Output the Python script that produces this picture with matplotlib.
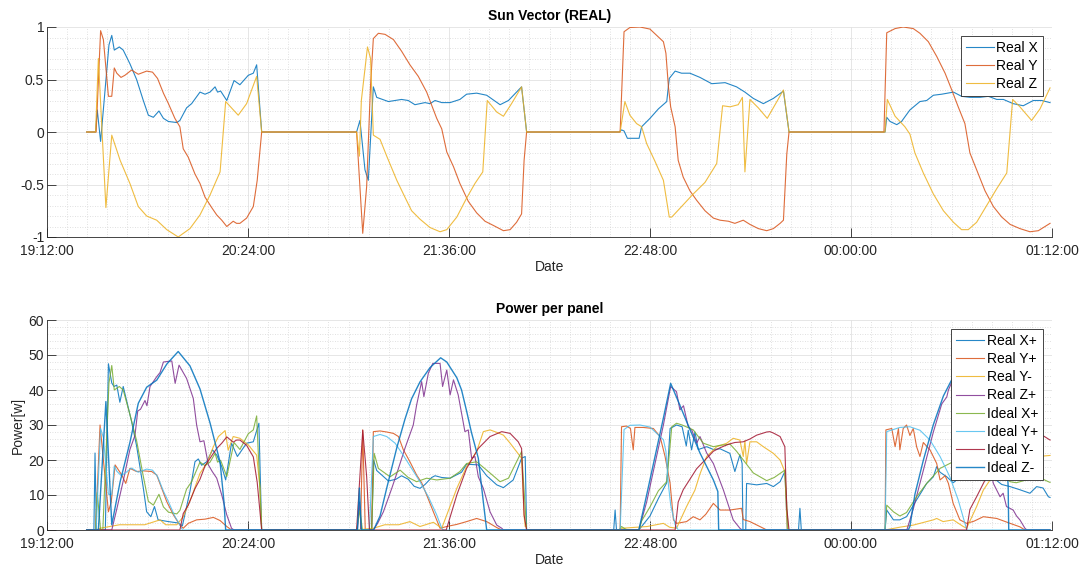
import numpy as np
import matplotlib
matplotlib.use("Agg")
import matplotlib.pyplot as plt
import matplotlib.dates as mdates
from matplotlib.ticker import MultipleLocator, FuncFormatter

plt.rcParams['font.family'] = ['Liberation Sans', 'DejaVu Sans']
plt.rcParams['axes.unicode_minus'] = False

# ---------------- data (minutes after 19:12:00, value) ----------------
START = '2021-01-01T19:12:00'

real_x = [(14.2,0),(17.4,0),(18.0,0.21),(19.2,-0.09),(22.2,0.83),(23.2,0.92),(24.1,0.78),(25.9,0.81),(27.3,0.78),(29.7,0.65),(32.1,0.50),(34.5,0.30),(36.3,0.16),(38.1,0.14),(40.1,0.20),(41.7,0.13),(43.5,0.10),(46.5,0.09),(47.6,0.11),(50.0,0.23),(51.8,0.27),(54.8,0.38),(56.6,0.36),(58.4,0.38),(60.2,0.43),(61.1,0.38),(62.2,0.39),(64.4,0.30),(67.0,0.49),(69.1,0.45),(72.1,0.54),(73.9,0.56),(75.1,0.64),(76.9,0),
          (110.9,0),(112.1,0.11),(113.9,-0.36),(115.1,-0.46),(116.9,0.43),(118.1,0.33),(122.3,0.29),(127.0,0.31),(129.4,0.30),(131.8,0.26),(133.6,0.27),(135.4,0.28),(137.2,0.27),(139.0,0.30),(141.4,0.28),(144.4,0.28),(147.9,0.31),(150.3,0.36),(153.9,0.37),(157.5,0.35),(162.3,0.26),(165.3,0.30),(170.0,0.43),(171.8,0),
          (205.0,0),(205.8,0.02),(206.7,0.01),(207.9,-0.06),(212.1,-0.06),(213.0,0.05),(216.0,0.13),(219.0,0.22),(222.0,0.29),(222.9,0.51),(225.0,0.58),(227.3,0.56),(230.3,0.56),(233.9,0.52),(238.1,0.46),(242.9,0.47),(247.0,0.43),(250.0,0.38),(253.0,0.32),(256.6,0.27),(260.2,0.32),(263.8,0.39),(265.8,0),
          (300.2,0),(300.8,0.14),(302.0,0.10),(304.4,0.07),(306.1,0.10),(309.1,0.21),(312.7,0.29),(315.1,0.30),(317.5,0.35),(320.5,0.36),(324.7,0.38),(327.6,0.34),(330.6,0.33),(334.2,0.33),(337.2,0.34),(340.2,0.31),(342.6,0.31),(346.1,0.27),(349.7,0.25),(353.3,0.30),(356.3,0.30),(359.3,0.28)]

real_y = [(14.2,0),(17.6,0),(19.2,0.965),(20.2,0.88),(22.0,0.34),(23.2,0.34),(24.1,0.61),(25.0,0.56),(26.5,0.52),(27.9,0.54),(30.3,0.59),(32.7,0.55),(35.7,0.58),(37.8,0.57),(39.6,0.51),(41.7,0.37),(43.5,0.27),(45.8,0.13),(47.6,0.05),(48.8,-0.16),(50.6,-0.24),(53.0,-0.40),(54.8,-0.49),(56.6,-0.62),(59.0,-0.72),(60.8,-0.79),(62.6,-0.84),(64.4,-0.90),(66.7,-0.85),(67.9,-0.87),(69.1,-0.87),(71.5,-0.82),(73.9,-0.71),(75.3,-0.46),(76.9,0),
          (110.9,0),(113.1,-0.965),(114.5,-0.52),(115.9,0.45),(116.9,0.89),(118.7,0.94),(121.1,0.93),(124.1,0.88),(127.0,0.77),(130.0,0.64),(133.0,0.53),(136.0,0.38),(139.6,0.13),(141.4,0.03),(143.2,-0.19),(145.6,-0.33),(147.9,-0.49),(150.9,-0.66),(153.9,-0.77),(156.9,-0.85),(159.9,-0.89),(163.5,-0.94),(165.9,-0.93),(168.2,-0.86),(170.0,-0.78),(170.9,-0.27),(171.8,0),
          (205.3,0),(206.7,0.955),(208.8,0.995),(212.4,1.0),(216.0,0.98),(218.4,0.92),(220.8,0.86),(221.7,0.75),(222.6,0.43),(223.4,0.24),(225.0,0.05),(226.1,-0.27),(227.9,-0.43),(230.3,-0.56),(232.7,-0.65),(235.7,-0.75),(238.7,-0.82),(241.1,-0.84),(244.1,-0.85),(246.4,-0.87),(249.4,-0.84),(251.8,-0.88),(254.8,-0.92),(257.8,-0.94),(260.2,-0.92),(262.6,-0.87),(263.8,-0.84),(265.0,-0.21),(265.8,0),
          (299.8,0),(300.8,0.945),(303.8,0.985),(306.7,1.0),(310.3,0.985),(312.7,0.94),(315.7,0.86),(318.7,0.72),(321.7,0.56),(324.1,0.40),(326.4,0.24),(328.8,0.08),(330.6,-0.20),(333.0,-0.36),(336.0,-0.56),(339.0,-0.71),(342.0,-0.81),(345.0,-0.88),(348.5,-0.92),(352.1,-0.95),(355.1,-0.94),(357.5,-0.90),(359.3,-0.87)]

real_z = [(14.2,0),(17.4,0),(18.4,0.70),(21.1,-0.72),(23.2,-0.03),(26.2,-0.27),(29.7,-0.49),(32.7,-0.71),(35.7,-0.80),(39.3,-0.84),(42.9,-0.93),(47.0,-1.0),(51.2,-0.92),(54.8,-0.79),(58.4,-0.60),(62.0,-0.38),(64.0,0.29),(68.5,0.16),(71.5,0.27),(75.1,0.53),(76.9,0),
          (110.9,0),(111.9,-0.23),(112.6,0.3),(114.8,0.81),(115.9,0.70),(116.9,-0.03),(119.3,-0.07),(121.7,-0.23),(125.3,-0.46),(128.2,-0.62),(130.6,-0.75),(133.6,-0.83),(137.2,-0.91),(140.8,-0.95),(143.2,-0.93),(146.8,-0.81),(150.3,-0.63),(153.3,-0.49),(156.1,-0.38),(157.7,0.30),(161.1,0.19),(163.5,0.15),(166.4,0.27),(170.0,0.43),(171.8,0),
          (205.3,0),(207.0,0.29),(208.8,0.16),(211.2,0.08),(213.0,0.05),(214.8,-0.11),(217.8,-0.28),(220.8,-0.46),(222.9,-0.81),(223.8,-0.81),(227.3,-0.71),(231.5,-0.59),(235.7,-0.48),(239.9,-0.30),(242.0,0.25),(244.7,0.24),(247.6,0.26),(249.1,0.33),(250.0,-0.38),(251.8,0.31),(254.8,0.23),(258.0,0.13),(260.8,0.26),(263.8,0.40),(265.8,0),
          (300.2,0),(301.0,0.31),(303.8,0.15),(307.3,0.05),(309.1,-0.02),(310.9,-0.20),(313.9,-0.39),(317.5,-0.59),(321.1,-0.75),(324.7,-0.86),(327.6,-0.93),(330.0,-0.93),(333.0,-0.86),(336.6,-0.70),(340.2,-0.54),(343.8,-0.39),(345.9,0.31),(348.5,0.24),(352.7,0.11),(355.7,0.22),(359.3,0.42)]

real_xp = [(14.2,0),(16.8,0),(17.2,22),(17.7,0),(20.9,0),(22.0,47.5),(23.2,42),(24.0,41),(25.0,41.4),(26.1,36.5),(27.3,41),(29.1,35),(30.3,31),(32.1,24),(34.5,12),(35.7,5.2),(37.2,3.8),(38.5,6.7),(39.8,2.9),(43.5,2.4),(47.0,2.0),(48.5,1.2),(51.2,11),(53.0,19.5),(54.2,20.3),(55.4,18.5),(57.2,19.5),(59.3,22.9),(60.8,21.4),(62.6,18.1),(64.0,14.3),(66.1,24.8),(68.2,21),(71.5,24.8),(73.9,25.2),(75.9,30.5),(76.9,0),
           (110.9,0),(116.3,0),(117.0,20),(118.1,17),(122.3,14),(125.0,14.5),(127.0,15.5),(129.4,14.5),(131.5,12.5),(133.6,11.9),(135.4,13),(137.8,15),(139.0,15.5),(141.4,15),(144.4,14.8),(148.5,16.5),(150.3,18.8),(154.5,18.6),(157.5,15.5),(161.1,12.9),(163.5,12.1),(167.0,14.3),(170.0,20.5),(171.3,21),(171.8,0),
           (203.0,0),(203.5,5.7),(204.0,0),(212.0,0),(216.0,4),(219.0,9),(222.0,13.5),(223.2,29),(225.5,30),(227.5,29.5),(229.0,24),(229.7,28.5),(230.9,22.9),(232.1,28),(233.3,23),(236.3,23.8),(238.7,23.0),(241.1,23.2),(244.6,21.9),(246.4,16.7),(248.2,21.5),(249.0,19),(249.3,0),(250.3,0),(250.6,13.3),(254.2,12.9),(257.8,13.3),(260.2,12.4),(262.6,13.8),(264.3,16.7),(265.2,0),
           (269.2,0),(269.7,6.2),(270.2,0),(300.2,0),(300.8,5.7),(303.2,2.9),(305.5,2.9),(307.9,3.8),(311.5,8.6),(315.1,13.3),(317.5,15.2),(318.7,18.1),(319.9,16.5),(322.3,15.2),(324.6,13.5),(327.0,15),(330.0,15.5),(334.0,15),(338.0,15.5),(342.0,13),(345.0,12.4),(348.5,11.5),(352.1,10.5),(354.5,12.4),(356.8,12),(358.7,9.5),(359.3,9.3)]

real_yp = [(14.2,0),(17.4,0),(19.0,30),(20.2,20),(22.0,5.2),(23.0,8),(24.4,18.6),(26.8,15.7),(28.2,13.3),(29.7,17.6),(32.1,16.7),(34.5,16.9),(37.5,16.7),(39.3,15.7),(41.1,11.9),(42.9,8.1),(45.3,4.3),(47.6,1.4),(48.8,0.5),(50.6,1.9),(53.6,2.9),(56.6,3.1),(59.6,3.6),(62.0,2.7),(64.4,1),(66.1,0),
           (112.3,0),(113.1,28.6),(114.0,0),(116.3,0),(116.9,28.1),(119.3,28.3),(121.7,28.0),(124.1,27.6),(125.9,26.7),(127.6,23),(130.0,19.5),(132.4,15.7),(134.2,13.5),(136.0,10),(138.4,5.2),(140.8,0.5),(143.2,1),(146.8,1.6),(150.3,2.4),(153.9,3.3),(157.5,2.4),(161.1,0.7),(162.9,0),
           (205.3,0),(205.8,29.5),(207.6,29.7),(209.0,29.0),(210.0,22.9),(210.6,29.3),(213.6,29.3),(217.2,29),(219.6,26.7),(221.4,21),(223.2,13.3),(224.4,2.9),(225.5,1.9),(229.1,2.4),(231.5,3.8),(233.9,2.9),(236.0,4.5),(238.7,7.6),(241.1,5.7),(244.6,5.7),(248.8,6.2),(249.4,3),(251.8,2.4),(256.6,0.5),(257.8,0),
           (300.2,0),(300.5,28.6),(302.6,29),(303.8,23.8),(305.0,29),(305.5,22.9),(306.7,29),(307.9,30),(309.1,27),(310.3,29),(311.5,23.8),(312.7,21),(313.9,25),(316.3,22.9),(318.7,19),(319.9,14.3),(321.7,15.5),(322.9,13.3),(324.6,7.6),(327.0,2.9),(329.4,1.9),(332.0,2.5),(335.4,3.8),(340.2,3.3),(345.0,1.9),(348.5,0.9),(350.3,0),(359.3,0)]

real_ym = [(14.2,0),(17.6,0),(19.0,0.5),(26.0,1.5),(35.0,1.5),(40.5,2.9),(42.5,1.5),(46.5,1.5),(48.8,3.8),(51.8,9.5),(54.8,16.2),(57.2,19.0),(59.6,23.8),(61.4,26.7),(63.8,28.4),(64.9,22.8),(66.7,26.7),(69.1,26.2),(72.1,24.3),(75.1,21.4),(76.3,12),(76.9,0),
           (110.9,0),(116.9,0.5),(121.0,1.5),(126.0,1.5),(130.0,2.4),(133.6,1),(138.4,2.2),(141.4,0.5),(143.2,4.3),(146.8,11.9),(150.3,18.1),(153.9,22.4),(156.3,28.1),(158.7,28.6),(161.1,27.9),(163.5,27.1),(165.9,24.8),(168.2,22.4),(170.0,20.5),(170.9,4),(171.3,1),(171.6,1.5),(171.8,0),
           (205.3,0),(206.0,0.5),(215.0,1),(220.8,1.9),(223.0,0.8),(225.5,0.5),(229.1,6.7),(232.1,11.4),(233.9,16),(236.3,21),(239.9,23.8),(243.5,24.8),(245.8,26.2),(248.2,25.7),(249.4,21),(250.0,25.5),(250.6,19),(251.8,25.2),(254.2,25.2),(256.6,23.8),(260.2,21.9),(262.6,20),(264.3,16.7),(265.2,0),
           (300.2,0),(305.5,0.8),(310.3,1.4),(317.5,2.9),(318.7,3.3),(321.0,2.4),(324.6,2.9),(328.2,1),(329.4,0.5),(333.0,6.7),(335.4,11.4),(338.0,14.5),(341.0,17),(345.0,19),(350.0,20.2),(355.0,21),(359.3,21.3)]

real_zp = [(14.2,0),(23.2,0),(25.0,6),(27.3,14),(29.7,23),(31.5,27),(32.5,34),(33.5,34.5),(35.1,37),(35.8,35.5),(36.9,41),(39.3,43.8),(40.5,45),(41.7,48),(44.7,48.3),(45.9,41.9),(47.3,47.1),(50.0,43.3),(52.4,37.6),(53.6,30),(54.8,25.2),(56.2,25.5),(57.8,18.6),(59.2,16.7),(60.8,14.8),(62.6,10),(64.4,4.3),(66.1,0.5),(67.0,0),
           (111.2,0),(111.9,8),(112.6,0),(116.9,0),(118.5,2),(120.5,5.2),(123.5,11.9),(125.9,17.6),(128.2,23.3),(131.2,30),(132.4,35.7),(134.2,42.4),(135.0,38.1),(136.6,44.8),(138.2,47.6),(140.8,47.6),(141.7,41),(143.2,45.7),(144.4,38.6),(145.6,42.9),(147.3,38.6),(149.7,28.1),(150.9,28.6),(152.1,20.5),(153.3,21),(154.5,15.2),(156.3,11.9),(158.7,5.2),(161.1,1.4),(162.9,0.5),(163.5,0),
           (212.0,0),(214.8,8),(217.8,19),(220.8,30),(223.4,41),(225.5,39.5),(226.7,34.3),(228.0,35.5),(229.7,29.5),(231.0,28.5),(232.7,24.8),(233.9,26.7),(236.3,22),(238.7,19),(242.3,11.4),(245.8,2.9),(248.2,0.5),(249.0,0),
           (308.0,0),(310.3,6),(313.9,17),(317.5,28),(320.5,36),(322.3,38),(322.9,40),(324.5,43),(326.5,45.5),(328.5,44),(330.5,42),(333.0,35),(336.0,25),(338.0,17),(339.0,13.3),(341.4,9.5),(342.5,10.5),(343.7,6.7),(346.1,5.7),(347.3,4),(348.5,2.9),(350.3,0.5),(351.0,0),(359.3,0)]

ideal_xp = [(14.2,0),(17.4,0),(18.0,10.7),(19.2,0),(20.0,0),(22.2,42),(23.2,47),(24.1,40),(25.9,41),(27.3,40),(29.7,33),(32.1,25.5),(34.5,15.3),(36.3,8.2),(38.1,7.1),(40.1,10.2),(41.7,6.6),(43.5,5.1),(46.5,4.6),(47.6,5.6),(50.0,11.7),(51.8,13.8),(54.8,19.4),(56.6,18.4),(58.4,19.4),(60.2,21.9),(61.1,19.4),(62.2,19.9),(64.4,15.3),(67.0,25),(69.1,23),(72.1,27.5),(73.9,28.6),(75.1,32.6),(76.9,0),
            (110.9,0),(112.1,5.6),(113.0,0),(116.3,0),(117.2,21.9),(118.7,17.6),(122.9,15.2),(126.5,17.1),(129.4,15),(132.4,13.8),(136.0,14.8),(139.6,14.3),(144.4,14.8),(147.9,16.7),(150.3,19),(153.9,19.5),(157.5,17.1),(162.3,13.8),(165.3,14.8),(170.0,22.4),(171.8,0),
            (205.0,0),(205.8,1),(206.7,0.5),(207.9,0),(212.1,0),(213.0,2.6),(216.0,6.6),(219.0,11.2),(222.0,13.8),(223.8,29.5),(225.5,30.5),(227.5,30),(231.5,28.6),(235.1,24.8),(238.7,23.8),(241.1,24.2),(244.7,24.5),(247.0,22.5),(250.0,19.4),(253.0,16.3),(257.8,14.1),(260.5,15),(264.3,17.1),(265.5,0),
            (300.2,0),(300.8,7.1),(303.2,5.2),(305.5,4),(307.9,5),(311.5,9.5),(315.1,13.3),(319.9,17.6),(324.6,19.5),(327.6,17.8),(330.6,17),(334.2,17),(337.2,17.3),(340.2,15.8),(342.6,15.5),(345.0,13.8),(347.2,13.5),(350.8,14.3),(353.2,15.2),(356.0,14.8),(358.7,13.8),(359.3,13.6)]

ideal_yp = [(14.2,0),(17.6,0),(19.2,29),(20.2,26.4),(22.0,10.2),(23.2,10.2),(24.1,18.3),(25.0,16.8),(26.5,15.6),(27.9,16.2),(30.3,17.7),(32.7,16.5),(35.7,17.4),(37.8,17.1),(39.6,15.3),(41.7,11.1),(43.5,8.1),(45.8,3.9),(47.6,1.5),(48.5,0),
            (115.5,0),(116.9,26.7),(119.3,27.3),(121.7,26.7),(124.7,24.8),(127.6,21.4),(130.6,17.6),(133.6,13.8),(136.6,9.5),(139.6,4.3),(141.4,0.5),(142.0,0),
            (205.3,0),(206.7,28.7),(208.8,29.9),(212.4,30),(216.0,29.4),(218.4,27.6),(220.8,25.8),(221.7,22.5),(222.6,12.9),(223.4,7.2),(225.0,1.5),(226.1,0),
            (300.2,0),(300.8,28.1),(305.5,29.3),(309.1,29.5),(312.7,28.5),(316.3,25.7),(319.9,21),(323.4,15.2),(326.4,8.6),(328.8,1.9),(329.5,0),(359.3,0)]

ideal_ym = [(14.2,0),(47.6,0),(48.8,4.7),(50.6,7.1),(53.0,11.8),(54.8,14.5),(56.6,18.3),(59.0,21.2),(60.8,23.3),(62.6,24.8),(64.4,26.6),(66.7,25.1),(67.9,25.7),(69.1,25.7),(71.5,24.2),(73.9,20.9),(75.3,13.6),(76.9,0),
            (110.9,0),(113.1,28.5),(114.5,15.3),(115.5,0),(143.0,0),(146.8,10),(150.3,17.6),(154.5,23.3),(158.7,26.7),(162.9,28.1),(165.9,27.6),(168.8,25.2),(170.0,23.3),(170.9,4.3),(171.8,0),
            (225.0,0),(226.1,8),(227.9,11.5),(230.3,14.5),(232.7,17.5),(236.3,20.5),(238.7,22.5),(241.1,23.5),(244.1,24.5),(246.4,25),(249.4,25.2),(251.8,26),(254.2,27.1),(257.8,28),(259.0,28.1),(260.2,27.7),(262.6,26.7),(264.3,23.8),(265.0,6.2),(265.8,0),
            (329.4,0),(330.6,5.9),(333.0,9.5),(336.6,15.2),(339.0,19),(342.0,22.5),(345.0,25),(348.5,26.8),(352.1,28),(355.1,27.7),(357.5,26.6),(359.3,25.7)]

ideal_zm = [(14.2,0),(18.4,0),(21.1,36.7),(23.2,1.5),(26.2,13.8),(29.7,25),(32.7,36.2),(35.7,40.8),(39.3,42.8),(42.9,47.4),(47.0,51),(51.2,46.9),(54.8,40.3),(58.4,30.6),(62.0,19.4),(63.4,8),(64.0,0),
            (111.2,0),(111.9,12),(112.6,0),(117.0,0),(119.3,4),(121.7,12),(125.3,23.5),(128.2,31.6),(130.6,37.5),(133.6,42.3),(137.2,46.4),(141.0,49.2),(143.2,48),(146.8,43.5),(148.5,40),(150.3,34),(152.0,28),(154.5,20.5),(156.3,8),(157.5,0),
            (212.0,0),(214.8,10),(217.8,21),(220.8,32),(223.4,41.9),(226.0,37),(229.1,31),(233.9,22),(238.7,14.3),(240.3,11),(240.6,0),
            (308.5,0),(309.1,1),(310.9,10.2),(313.9,19.9),(317.5,30.1),(321.1,38.3),(324.7,43.9),(327.6,47.4),(330.0,47.4),(333.0,43.9),(336.6,35.7),(340.2,27.5),(343.8,19.9),(344.3,12.4),(344.5,0),(359.3,0)]

top_labels = ['Real X', 'Real Y', 'Real Z']
bottom_labels = ['Real X+', 'Real Y+', 'Real Y-', 'Real Z+', 'Ideal X+', 'Ideal Y+', 'Ideal Y-', 'Ideal Z-']
top_series = [real_x, real_y, real_z]
bottom_series = [real_xp, real_yp, real_ym, real_zp, ideal_xp, ideal_yp, ideal_ym, ideal_zm]

SPAN_MIN = 360
MAJOR_STEP_MIN = 72
MINOR_STEP_MIN = 7.2

# ---------------- helpers ----------------
BASE = np.datetime64(START)

def to_dt(minutes):
    sec = np.round(np.asarray(minutes, dtype=float) * 60).astype('int64')
    return BASE + sec.astype('timedelta64[s]')

def unzip(pairs):
    t, v = zip(*pairs)
    return to_dt(t), np.array(v, dtype=float)

COLORS = ['#0072BD', '#D95319', '#EDB120', '#7E2F8E', '#77AC30', '#4DBEEE', '#A2142F', '#0072BD']
AXC = '#262626'

def style(ax, ylim, yticks, yminor, title, ylabel=None):
    ax.set_xlim(to_dt(0), to_dt(SPAN_MIN))
    ax.set_ylim(*ylim)
    ax.set_xticks(to_dt(np.arange(0, SPAN_MIN + 0.01, MAJOR_STEP_MIN)))
    ax.set_xticks(to_dt(np.arange(0, SPAN_MIN + 0.01, MINOR_STEP_MIN)), minor=True)
    ax.xaxis.set_major_formatter(mdates.DateFormatter('%H:%M:%S'))
    ax.set_yticks(yticks)
    ax.yaxis.set_minor_locator(MultipleLocator(yminor))
    ax.yaxis.set_major_formatter(FuncFormatter(lambda v, p: '%g' % v))
    ax.set_axisbelow(True)
    ax.grid(True, which='major', color='#e2e2e2', lw=0.6, ls='-')
    ax.grid(True, which='minor', color='#d6d6d6', lw=0.6, ls=(0, (1, 2)))
    for s in ['top', 'right']:
        ax.spines[s].set_visible(False)
    for s in ['left', 'bottom']:
        ax.spines[s].set_color(AXC)
        ax.spines[s].set_linewidth(0.6)
    ax.tick_params(which='major', direction='in', length=6.5, width=0.6, color=AXC,
                   labelsize=10, labelcolor=AXC)
    ax.tick_params(axis='x', which='major', pad=5)
    ax.tick_params(axis='y', which='major', pad=2)
    ax.tick_params(which='minor', length=0)
    ax.set_title(title, fontsize=10, fontweight='bold', pad=5)
    ax.set_xlabel('Date', fontsize=10, color=AXC, labelpad=1.5)
    if ylabel:
        ax.set_ylabel(ylabel, fontsize=10, color=AXC, labelpad=3)

def legend(ax):
    leg = ax.legend(loc='upper right', fontsize=10, frameon=True, fancybox=False,
                    edgecolor=AXC, framealpha=1, borderpad=0.35, labelspacing=0.3,
                    handlelength=2.0, handletextpad=0.2, borderaxespad=0.65)
    leg.get_frame().set_linewidth(0.6)
    for t in leg.get_texts():
        t.set_color('black')

# ---------------- figure ----------------
fig = plt.figure(figsize=(10.84, 5.72), dpi=100)
ax1 = fig.add_axes([47 / 1084, 1 - 237 / 572, 1005 / 1084, 210 / 572])
ax2 = fig.add_axes([47 / 1084, 1 - 530 / 572, 1005 / 1084, 210 / 572])

for lab, ser, col in zip(top_labels, top_series, COLORS):
    t, v = unzip(ser)
    ax1.plot(t, v, color=col, lw=0.8, alpha=0.85, label=lab)
style(ax1, (-1, 1), [-1, -0.5, 0, 0.5, 1], 0.1, 'Sun Vector (REAL)')
legend(ax1)

for i, (lab, ser) in enumerate(zip(bottom_labels, bottom_series)):
    t, v = unzip(ser)
    ax2.plot(t, v, color=COLORS[i], lw=1.0 if i == 7 else 0.8, alpha=0.85, label=lab)
style(ax2, (0, 60), [0, 10, 20, 30, 40, 50, 60], 2, 'Power per panel', 'Power[w]')
legend(ax2)

fig.savefig('out.png', dpi=100)
